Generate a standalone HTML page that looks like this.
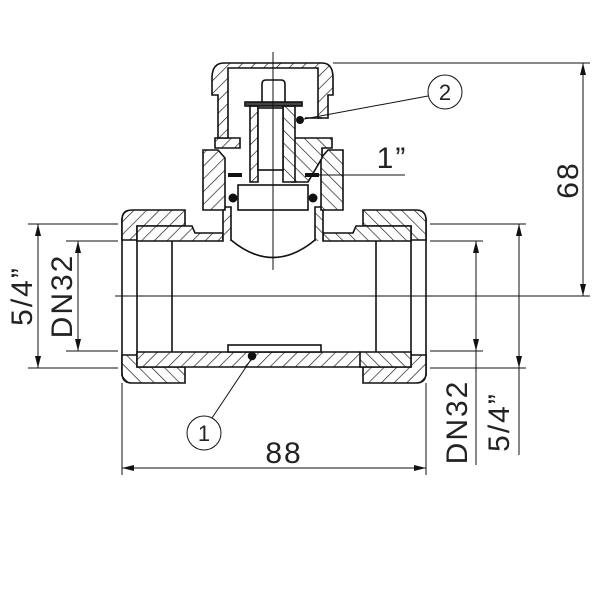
<!DOCTYPE html>
<html><head><meta charset="utf-8"><style>
html,body{margin:0;padding:0;background:#fff;}
svg{display:block;}
text{font-family:"Liberation Sans",sans-serif;fill:#222;}
</style></head><body>
<svg width="600" height="600" viewBox="0 0 600 600" xmlns="http://www.w3.org/2000/svg">
<defs>
<pattern id="h" patternUnits="userSpaceOnUse" width="9" height="9" patternTransform="rotate(45)">
<rect width="9" height="9" fill="#fff"/><line x1="0" y1="0" x2="0" y2="9" stroke="#111" stroke-width="1.3"/></pattern>
<pattern id="h2" patternUnits="userSpaceOnUse" width="9" height="9" patternTransform="rotate(-45)">
<rect width="9" height="9" fill="#fff"/><line x1="0" y1="0" x2="0" y2="9" stroke="#111" stroke-width="1.3"/></pattern>
<marker id="a" viewBox="0 0 12 6" refX="12" refY="3" markerWidth="12" markerHeight="6" orient="auto" markerUnits="userSpaceOnUse"><path d="M0,0 L12,3 L0,6 Z" fill="#111"/></marker>
</defs>
<g stroke="#111" stroke-width="1.6" fill="none">
<line x1="122" y1="218" x2="122" y2="376"/>
<line x1="426" y1="218" x2="426" y2="376"/>
<line x1="137" y1="226" x2="137" y2="367"/>
<line x1="411" y1="226" x2="411" y2="367"/>
<path d="M122,220 Q122,210 132,210 L185,210 L185,226 L137,226 L137,240 L122,240 Z" fill="url(#h)"/>
<path d="M426,220 Q426,210 416,210 L363,210 L363,226 L411,226 L411,240 L426,240 Z" fill="url(#h2)"/>
<path d="M122,373 Q122,383 132,383 L185,383 L185,367 L137,367 L137,355 L122,355 Z" fill="url(#h2)"/>
<path d="M426,373 Q426,383 416,383 L363,383 L363,367 L411,367 L411,355 L426,355 Z" fill="url(#h)"/>
<path d="M137,226 L192,226 L195,233 L223,233 L223,241 L137,241 Z" fill="url(#h)"/>
<path d="M411,226 L356,226 L353,233 L323,233 L323,241 L411,241 Z" fill="url(#h2)"/>
<path d="M137,352 L360,352 L363,360 L363,367 L137,367 Z" fill="url(#h)"/>
<path d="M411,352 L360,352 L360,367 L411,367 Z" fill="url(#h2)"/>
<line x1="172" y1="241" x2="172" y2="352"/>
<line x1="376" y1="241" x2="376" y2="352"/>
<rect x="228" y="345" width="93" height="7" fill="#fff"/>
<circle cx="252" cy="356" r="3.5" fill="#111"/>
<path d="M223,241 L223,207 L231,207 L231,241" fill="url(#h)"/>
<path d="M323,241 L323,207 L315,207 L315,241" fill="url(#h2)"/>
<path d="M231,240 Q273,275 315,240"/>
<path d="M203,150 L218,150 L225,158 L225,210 L203,210 Z" fill="url(#h)"/>
<path d="M343,150 L328,150 L321,158 L321,210 L343,210 Z" fill="url(#h2)"/>
<rect x="238" y="185" width="70" height="25" fill="#fff"/>
<path d="M215,138 L240,138 L240,148 L215,148 Z" fill="url(#h)"/>
<path d="M292,138 L332,138 L332,148 L322,148 L322,158 L308,182 L292,182 Z" fill="url(#h2)"/>
<path d="M212,78 Q212,63 224,63 L322,63 Q333,63 333,78 L333,95 L328,95 L328,118 L318,118 L318,68 L228,68 L228,138 L218,138 L218,95 L212,95 Z" fill="url(#h)"/>
<path d="M250,106 L258,106 L258,182 L250,182 Z" fill="url(#h)"/>
<path d="M283,106 L295,106 L295,182 L283,182 Z" fill="url(#h2)"/>
<rect x="258" y="108" width="25" height="62" fill="#fff"/>
<rect x="245" y="102" width="57" height="4" fill="#444"/>
<path d="M262,102 L262,84 Q262,80 266,80 L281,80 Q285,80 285,84 L285,102"/>
<line x1="305" y1="118" x2="322" y2="118"/>
</g>
<g fill="#111">
<circle cx="300" cy="120" r="4"/>
<circle cx="233" cy="198" r="4.5"/>
<circle cx="313" cy="198" r="4.5"/>
<rect x="228" y="173" width="14" height="4"/>
<rect x="305" y="173" width="14" height="4"/>
</g>
<g stroke="#111" stroke-width="1" fill="none">
<line x1="273" y1="52" x2="273" y2="270"/>
<line x1="115" y1="296" x2="590" y2="296"/>
<line x1="310" y1="175" x2="405" y2="175"/>
<line x1="333" y1="63" x2="590" y2="63"/>
<line x1="28" y1="224" x2="118" y2="224"/><line x1="28" y1="368" x2="118" y2="368"/>
<line x1="66" y1="241" x2="118" y2="241"/><line x1="66" y1="351" x2="118" y2="351"/>
<line x1="430" y1="224" x2="526" y2="224"/><line x1="430" y1="368" x2="526" y2="368"/>
<line x1="430" y1="241" x2="483" y2="241"/><line x1="430" y1="351" x2="483" y2="351"/>
<line x1="122" y1="383" x2="122" y2="475"/><line x1="426" y1="383" x2="426" y2="475"/>
<line x1="38" y1="296" x2="38" y2="224" marker-end="url(#a)"/><line x1="38" y1="296" x2="38" y2="368" marker-end="url(#a)"/>
<line x1="78" y1="296" x2="78" y2="241" marker-end="url(#a)"/><line x1="78" y1="296" x2="78" y2="351" marker-end="url(#a)"/>
<line x1="519" y1="296" x2="519" y2="224" marker-end="url(#a)"/><line x1="519" y1="296" x2="519" y2="368" marker-end="url(#a)"/>
<line x1="476" y1="296" x2="476" y2="241" marker-end="url(#a)"/><line x1="476" y1="296" x2="476" y2="351" marker-end="url(#a)"/>
<line x1="519" y1="368" x2="519" y2="455"/><line x1="476" y1="351" x2="476" y2="465"/>
<line x1="583" y1="180" x2="583" y2="63" marker-end="url(#a)"/><line x1="583" y1="180" x2="583" y2="296" marker-end="url(#a)"/>
<line x1="274" y1="468" x2="122" y2="468" marker-end="url(#a)"/><line x1="274" y1="468" x2="426" y2="468" marker-end="url(#a)"/>
<circle cx="445" cy="92" r="17"/><line x1="428" y1="96" x2="304" y2="119"/>
<circle cx="204" cy="433" r="17"/><line x1="212" y1="418" x2="252" y2="358"/>
</g>
<g font-size="30" letter-spacing="2">
<text x="284" y="463" text-anchor="middle">88</text>
<text x="392" y="168" text-anchor="middle">1”</text>
<text transform="translate(578,180) rotate(-90)" text-anchor="middle">68</text>
<text transform="translate(32,296) rotate(-90)" text-anchor="middle">5/4”</text>
<text transform="translate(72,296) rotate(-90)" text-anchor="middle">DN32</text>
<text transform="translate(467,422) rotate(-90)" text-anchor="middle">DN32</text>
<text transform="translate(509,422) rotate(-90)" text-anchor="middle">5/4”</text>
</g>
<g font-size="22">
<text x="445" y="100" text-anchor="middle">2</text>
<text x="204" y="441" text-anchor="middle">1</text>
</g>
</svg>
</body></html>
